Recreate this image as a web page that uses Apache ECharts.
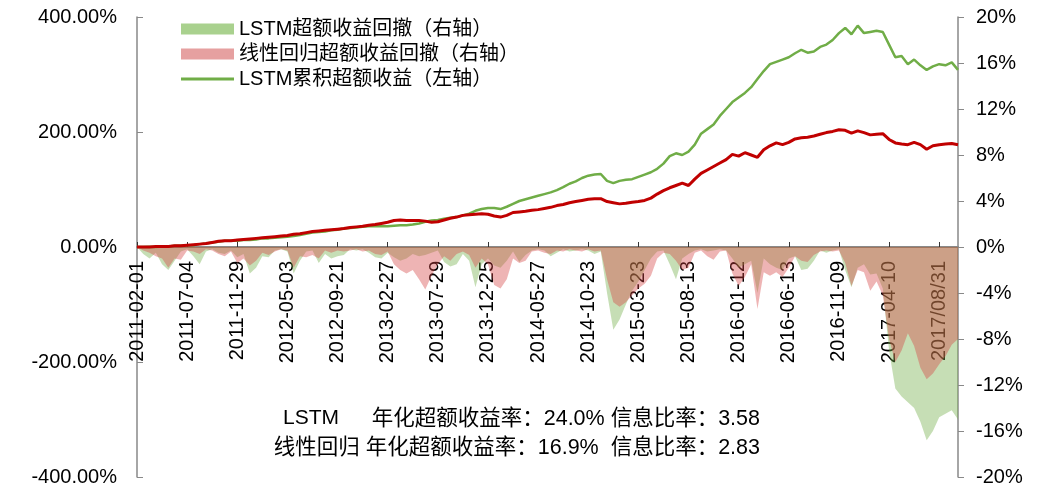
<!DOCTYPE html>
<html>
<head>
<meta charset="UTF-8">
<title>LSTM 超额收益</title>
<script src="https://cdn.jsdelivr.net/npm/echarts@6/dist/echarts.min.js"></script>
<style>
  html, body { margin: 0; padding: 0; background: #fff; }
  #main { width: 1043px; height: 488px; }
</style>
</head>
<body>
<div id="main"></div>
<script>
// 横轴刻度标签（每 8 个点一个）
var tickLabels = ['2011-02-01', '2011-07-04', '2011-11-29', '2012-05-03', '2012-09-21', '2013-02-27',
  '2013-07-29', '2013-12-25', '2014-05-27', '2014-10-23', '2015-03-23', '2015-08-13',
  '2016-01-12', '2016-06-13', '2016-11-09', '2017-04-10', '2017/08/31'];

// LSTM累积超额收益（左轴，%）
var lstmCum = [0, 0, 0.5, 0, 1, 1, 2, 2, 3, 3, 5, 6, 8, 9, 11, 11, 11, 12, 12, 13,
  15, 15, 16, 17, 18, 19, 21, 23, 25, 26, 27, 29, 30, 32, 33, 34, 35, 36, 36, 36,
  36, 37, 38, 38, 39, 41, 44, 46, 47, 49, 51, 52, 55, 58, 63, 66, 68, 68, 66, 70,
  75, 80, 83, 86, 89, 92, 95, 99, 104, 110, 114, 120, 124, 126, 127, 115, 111, 115, 117, 118,
  122, 126, 130, 136, 145, 158, 163, 160, 166, 178, 197, 205, 213, 228, 240, 252, 260, 268, 278, 292,
  306, 318, 322, 326, 330, 337, 343, 338, 340, 348, 352, 360, 372, 381, 370, 385, 372, 374, 376, 374,
  352, 330, 332, 318, 326, 316, 308, 314, 318, 316, 321, 308];

// 线性回归累积超额收益（左轴，%）
var linCum = [0, 0, 0, 1, 1, 1, 2, 2, 3, 4, 5, 6, 8, 10, 11, 11, 12, 13, 14, 15,
  16, 17, 18, 19, 20, 22, 23, 25, 27, 28, 29, 30, 31, 32, 34, 35, 36, 38, 39, 41,
  43, 46, 47, 46, 46, 46, 45, 43, 44, 47, 50, 52, 55, 56, 57, 58, 57, 54, 52, 55,
  60, 61, 62, 64, 65, 67, 69, 72, 74, 77, 79, 81, 83, 84, 84, 79, 77, 75, 76, 78,
  79, 81, 85, 92, 98, 103, 107, 111, 107, 118, 128, 134, 140, 146, 152, 161, 158, 164, 160, 156,
  169, 176, 181, 178, 182, 188, 190, 191, 193, 196, 199, 201, 204, 203, 198, 202, 199, 195, 196, 197,
  187, 181, 179, 178, 182, 178, 170, 176, 178, 179, 180, 178];

// LSTM超额收益回撤（右轴，%）
var lstmDD = [0, -0.6, -1.0, -0.5, -1.5, -2.0, -1.2, -0.4, -0.2, -0.8, -1.5, -0.4, -0.2, -0.5, -0.6, -0.3, -0.9, -0.6, -2.3, -1.8,
  -0.8, -0.9, -0.3, -0.2, -0.4, -2.3, -1.2, -0.4, -0.3, -1.4, -0.6, -1.0, -0.8, -0.7, -0.2, -0.3, -0.2, -0.5, -0.9, -1.0,
  -0.5, -0.9, -1.2, -1.0, -0.6, -0.8, -0.7, -0.5, -0.3, -1.3, -1.7, -1.5, -0.6, -1.2, -3.5, -1.5, -1.0, -1.6, -1.8, -1.2,
  -0.4, -1.3, -0.7, -0.3, -0.2, -0.3, -0.8, -0.5, -0.2, -0.4, -0.3, -0.2, -0.3, -0.6, -0.4, -4.0, -7.2, -6.3, -5.0, -3.8,
  -3.0, -2.0, -1.0, -0.4, -0.3, -1.5, -2.8, -1.0, -0.6, -0.3, -0.2, -0.4, -0.3, -0.2, -0.3, -1.0, -1.8, -1.5, -1.2, -4.0,
  -1.0, -1.5, -1.8, -2.0, -1.0, -0.8, -2.0, -1.9, -1.2, -0.3, -0.5, -0.3, -0.2, -2.0, -3.5, -1.8, -1.5, -2.4, -2.3, -3.6,
  -9.0, -12.3, -13.0, -13.5, -14.0, -15.2, -16.8, -16.0, -14.8, -14.5, -14.2, -15.0];

// 线性回归超额收益回撤（右轴，%）
var linDD = [0, -0.3, -0.5, -0.8, -1.0, -1.8, -1.0, -1.1, -0.3, -0.4, -0.6, -0.2, -0.3, -0.6, -0.8, -0.4, -1.4, -1.0, -1.6, -1.2,
  -0.5, -0.7, -0.4, -0.2, -0.3, -1.8, -0.8, -0.9, -0.7, -1.0, -0.3, -0.5, -0.3, -0.4, -0.3, -0.2, -0.4, -0.3, -0.6, -0.7,
  -0.4, -1.5, -2.0, -2.3, -2.0, -2.8, -3.7, -2.5, -1.5, -0.8, -1.2, -0.6, -0.4, -0.7, -1.8, -1.0, -1.5, -3.3, -3.6, -2.8,
  -1.0, -1.4, -1.2, -0.4, -0.3, -0.5, -0.6, -0.3, -0.4, -0.2, -0.3, -0.4, -0.2, -0.4, -0.3, -2.8, -4.8, -5.2, -4.8, -4.2,
  -3.6, -3.2, -2.5, -1.0, -0.5, -0.6, -1.2, -2.0, -1.8, -0.5, -0.3, -0.8, -1.1, -0.4, -0.3, -2.3, -3.4, -2.6, -1.5, -5.4,
  -2.2, -2.5, -2.2, -2.6, -1.8, -0.8, -1.2, -1.3, -0.7, -0.4, -0.3, -0.4, -0.3, -1.4, -3.4, -2.0, -2.2, -3.8, -3.0, -4.2,
  -8.0, -10.0, -9.0, -7.5, -8.6, -10.5, -11.5, -11.0, -10.2, -9.5, -8.5, -8.0];

var categories = lstmCum.map(function (v, i) {
  return i % 8 === 0 ? tickLabels[i / 8] : 'p' + i;
});

var font = '"Liberation Sans", Arial, "Noto Sans CJK SC", sans-serif';
var myChart = echarts.init(document.getElementById('main'));

// 网格高 460，零线在中间，横轴上移 230 放到零线处
var option = {
  animation: false,
  textStyle: { fontFamily: font, color: '#000' },
  grid: { left: 137, right: 85, top: 17, bottom: 11, containLabel: false, outerBoundsMode: 'none' },
  legend: {
    orient: 'vertical',
    left: 176,
    top: 14,
    itemWidth: 53,
    itemHeight: 11,
    itemGap: 5,
    symbolKeepAspect: true,
    textStyle: { fontSize: 20, color: '#000', fontFamily: font },
    data: [
      { name: 'LSTM超额收益回撤（右轴）', icon: 'rect', itemStyle: { color: '#A9D18E' } },
      { name: '线性回归超额收益回撤（右轴）', icon: 'rect', itemStyle: { color: '#E6A0A0' } },
      { name: 'LSTM累积超额收益（左轴）', icon: 'path://M0,0L53,0L53,3L0,3Z', itemStyle: { color: '#70AD47' } }
    ]
  },
  xAxis: {
    type: 'category',
    data: categories,
    boundaryGap: false,
    position: 'bottom',
    offset: -230,
    axisLine: { onZero: false, lineStyle: { color: '#898989', width: 2 } },
    axisTick: { inside: true, length: 5, interval: 7, lineStyle: { color: '#333', width: 1 } },
    axisLabel: { interval: 7, rotate: 90, margin: 14, fontSize: 20, color: '#000', fontFamily: font },
    splitLine: { show: false }
  },
  yAxis: [{
    type: 'value',
    min: -400, max: 400, interval: 200,
    axisLine: { show: true, lineStyle: { color: '#898989', width: 1.5 } },
    axisTick: { show: true, inside: true, length: 6, lineStyle: { color: '#898989' } },
    axisLabel: { margin: 20, fontSize: 20, color: '#000', fontFamily: font,
      formatter: function (v) { return v.toFixed(2) + '%'; } },
    splitLine: { show: false }
  }, {
    type: 'value',
    min: -20, max: 20, interval: 4,
    axisLine: { show: true, lineStyle: { color: '#898989', width: 1.5 } },
    axisTick: { show: true, inside: false, length: 6, lineStyle: { color: '#898989' } },
    axisLabel: { margin: 18, fontSize: 20, color: '#000', fontFamily: font,
      formatter: function (v) { return v + '%'; } },
    splitLine: { show: false }
  }],
  series: [{
    name: 'LSTM超额收益回撤（右轴）',
    type: 'line',
    yAxisIndex: 1,
    data: lstmDD,
    symbol: 'none',
    color: '#A9D18E',
    lineStyle: { width: 0 },
    areaStyle: { color: 'rgba(112,173,71,0.4)', opacity: 1 },
    z: 1
  }, {
    name: '线性回归超额收益回撤（右轴）',
    type: 'line',
    yAxisIndex: 1,
    data: linDD,
    symbol: 'none',
    color: '#E6A0A0',
    lineStyle: { width: 0 },
    areaStyle: { color: 'rgba(212,68,68,0.4)', opacity: 1 },
    z: 2
  }, {
    name: 'LSTM累积超额收益（左轴）',
    type: 'line',
    yAxisIndex: 0,
    data: lstmCum,
    symbol: 'none',
    color: '#70AD47',
    lineStyle: { width: 2.5, color: '#70AD47' },
    z: 3
  }, {
    name: '线性回归累积超额收益（左轴）',
    type: 'line',
    yAxisIndex: 0,
    data: linCum,
    symbol: 'none',
    color: '#C00000',
    lineStyle: { width: 3, color: '#C00000' },
    z: 4
  }],
  graphic: [{
    type: 'text', left: 283, top: 408,
    style: { text: 'LSTM', font: '21px ' + font, fill: '#000' }
  }, {
    type: 'text', right: 1043 - 760, top: 408,
    style: { text: '年化超额收益率：24.0% 信息比率：3.58', font: '21.5px ' + font, fill: '#000' }
  }, {
    type: 'text', right: 1043 - 760, top: 437,
    style: { text: '线性回归 年化超额收益率：16.9%  信息比率：2.83', font: '21.5px ' + font, fill: '#000' }
  }]
};
myChart.setOption(option);
</script>
</body>
</html>
